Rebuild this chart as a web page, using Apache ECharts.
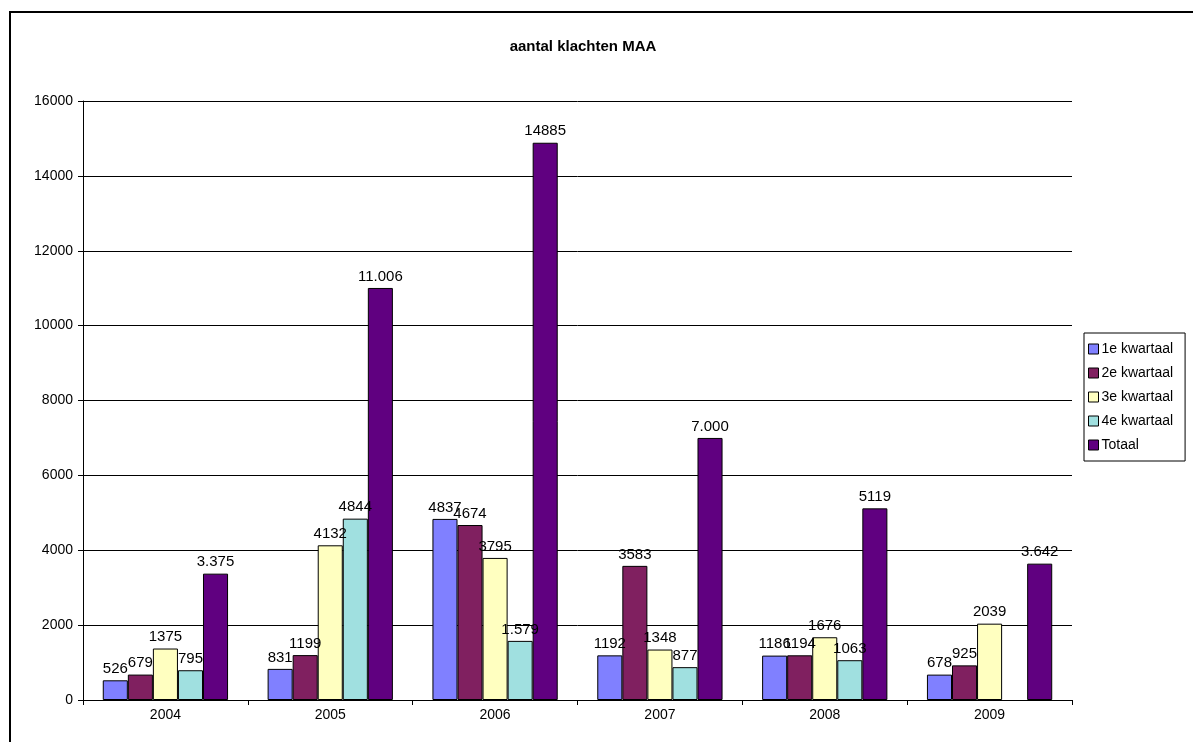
<!DOCTYPE html>
<html>
<head>
<meta charset="utf-8">
<script src="https://cdn.jsdelivr.net/npm/echarts@6/dist/echarts.min.js"></script>
<style>
  html, body { margin: 0; padding: 0; background: #fff; }
  #frame { position: absolute; left: 9px; top: 11px; width: 1190px; height: 740px; border: 2px solid #000; box-sizing: border-box; }
  #main { position: absolute; left: 0; top: 0; width: 1193px; height: 742px; }
</style>
</head>
<body>
<div id="frame"></div>
<div id="main"></div>
<script>
 var myChart = echarts.init(document.getElementById('main'));

 // jaren en waarden per kwartaal
 var years = ['2004', '2005', '2006', '2007', '2008', '2009'];
 var kw1 = [526, 831, 4837, 1192, 1186, 678];
 var kw2 = [679, 1199, 4674, 3583, 1194, 925];
 var kw3 = [1375, 4132, 3795, 1348, 1676, 2039];
 var kw4 = [795, 4844, 1579, 877, 1063, null];
 var totaal = [3375, 11006, 14885, 7000, 5119, 3642];

 // labels zoals in het origineel (soms met punt)
 var kw4Labels = ['795', '4844', '1.579', '877', '1063', ''];
 var totaalLabels = ['3.375', '11.006', '14885', '7.000', '5119', '3.642'];

 var names = ['1e kwartaal', '2e kwartaal', '3e kwartaal', '4e kwartaal', 'Totaal'];
 var colors = ['#8080FF', '#802060', '#FFFFC0', '#A0E0E0', '#600080'];
 var yTicks = [0, 2000, 4000, 6000, 8000, 10000, 12000, 14000, 16000];

 function makeSeries(idx, data, labels) {
	 return {
		 name: names[idx],
		 type: 'bar',
		 data: data,
		 barGap: '0%',
		 barCategoryGap: '24%',
		 itemStyle: { color: colors[idx], borderColor: '#000', borderWidth: 1 },
		 label: {
			 show: true,
			 position: 'top',
			 distance: 4,
			 color: '#000',
			 fontFamily: 'Liberation Sans, Arial',
			 fontSize: 15,
			 formatter: function (p) {
				 if (labels) return labels[p.dataIndex];
				 return p.value == null ? '' : String(p.value);
			 }
		 }
	 };
 }

 var options = {
	 backgroundColor: 'transparent',
	 animation: false,
	 color: colors,
	 title: {
		 text: 'aantal klachten MAA',
		 left: 578,
		 textAlign: 'center',
		 top: 34,
		 textStyle: { fontFamily: 'Liberation Sans, Arial', fontSize: 15, fontWeight: 'bold', color: '#000' }
	 },
	 legend: {
		 data: names,
		 orient: 'vertical',
		 left: 1084,
		 top: 333,
		 itemWidth: 10,
		 itemHeight: 10,
		 itemGap: 10,
		 padding: [9, 12, 9, 4],
		 borderColor: '#000',
		 borderWidth: 1,
		 icon: 'rect',
		 itemStyle: { borderColor: '#000', borderWidth: 1 },
		 textStyle: { fontFamily: 'Liberation Sans, Arial', fontSize: 14, color: '#000', padding: [0, 0, 0, -2] }
	 },
	 grid: { left: 83, right: 121, top: 101, bottom: 42 },
	 xAxis: {
		 type: 'category',
		 data: years,
		 axisLine: { lineStyle: { color: '#000', width: 1 } },
		 axisTick: { show: true, alignWithLabel: false, length: 5, lineStyle: { color: '#000' } },
		 axisLabel: { color: '#000', fontFamily: 'Liberation Sans, Arial', fontSize: 14, margin: 8 }
	 },
	 yAxis: {
		 type: 'value',
		 min: yTicks[0],
		 max: yTicks[yTicks.length - 1],
		 interval: 2000,
		 axisLine: { show: true, lineStyle: { color: '#000', width: 1 } },
		 axisTick: { show: true, length: 5, lineStyle: { color: '#000' } },
		 axisLabel: {
			 color: '#000',
			 fontFamily: 'Liberation Sans, Arial',
			 fontSize: 14,
			 margin: 10,
			 formatter: function (v) { return String(v); }
		 },
		 splitLine: { lineStyle: { color: '#000', width: 1 } }
	 },
	 series: [
		 makeSeries(0, kw1),
		 makeSeries(1, kw2),
		 makeSeries(2, kw3),
		 makeSeries(3, kw4, kw4Labels),
		 makeSeries(4, totaal, totaalLabels)
	 ]
 };

 myChart.setOption(options);
</script>
</body>
</html>
